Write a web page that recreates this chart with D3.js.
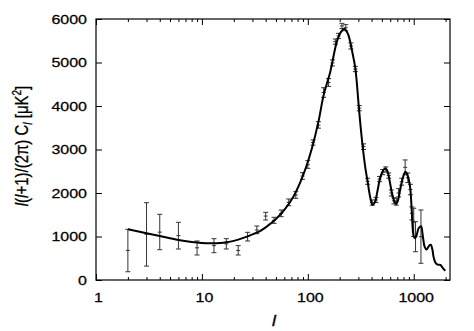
<!DOCTYPE html>
<html><head><meta charset="utf-8">
<script src="https://cdn.jsdelivr.net/npm/d3@7"></script>
<style>body{margin:0;background:#fff}svg{display:block}</style>
</head><body><svg id="c" width="474" height="331"></svg>
<script>
// theory curve (multipole l, power)
const theoryL = [2,3,4,5,6,8,10,12,15,17,20,25,30,35,40,50,60,73,85,98,110,126,141,163,188,205,222,240,251,265,281,302,314,332,350,367,390,409,430,455,480,510,539,565,590,620,650,681,710,745,790,833,860,900,930,960,1000,1030,1070,1112,1172,1220,1268,1320,1400,1450,1500,1542,1600,1660,1720,1784,1850,1920,1990];
const theoryV = [1165,1075,1010,960,920,875,852,843,850,866,900,975,1050,1120,1210,1400,1610,1916,2250,2650,3050,3640,4250,4790,5480,5700,5770,5650,5480,5200,4866,4023,3563,3000,2560,2260,1880,1725,1790,2050,2330,2500,2567,2500,2300,2020,1830,1747,1830,2080,2350,2490,2450,2300,2080,1550,1000,960,1050,1188,1235,1000,760,700,790,810,700,520,400,360,350,345,300,250,215];
// binned measurements
const dataL  = [2,3,4,6,9,13,17,22,27,33,40,48,56,66,77,89,100,112,126,141,157,171,182,195,210,228,255,281,306,336,367,405,440,476,510,545,580,615,650,685,720,770,830,880,930,960,1000,1040,1170];
const dataV  = [680,1050,1100,1020,740,790,830,680,1000,1150,1470,1370,1530,1785,1955,2390,2650,3160,3560,4310,4540,4990,5480,5610,5840,5800,5380,4850,3950,3065,2270,1780,1840,2320,2480,2540,2400,2000,1820,1800,2000,2260,2590,2350,2080,1530,1330,995,995];
const dataLo = [190,320,697,713,575,628,713,575,897,1065,1379,1303,1456,1709,1878,2315,2567,3100,3490,4200,4450,4920,5420,5550,5780,5730,5310,4790,3890,3000,2200,1720,1780,2260,2420,2480,2340,1930,1750,1720,1910,2180,2420,2240,1960,1380,1000,650,384];
const dataHi = [1165,1777,1510,1326,897,950,950,790,1096,1241,1556,1441,1609,1862,2030,2467,2743,3220,3640,4420,4630,5060,5540,5670,5900,5870,5450,4910,4010,3130,2340,1840,1900,2380,2540,2600,2460,2070,1890,1880,2100,2340,2760,2460,2200,1680,1650,1340,1609];
const xTicks = [1,10,100,1000];
const xMinor = [2,3,4,5,6,7,8,9,20,30,40,50,60,70,80,90,200,300,400,500,600,700,800,900,2000];
const yTicks = [0,1000,2000,3000,4000,5000,6000];

const svg = d3.select("#c");
const L = 96, R = 450, T = 19, B = 280;
const x = d3.scaleLog().domain([1, 2200]).range([L, R]);
const y = d3.scaleLinear().domain([0, 6000]).range([B, T]);
const SX = 1.25;
const FONT = "Liberation Sans, Arial, Helvetica, sans-serif";

function styleAxis(g){ g.select(".domain").remove(); g.selectAll("line").attr("stroke","#000").attr("stroke-width",1); }

// bottom major with labels
const gb = svg.append("g").attr("transform",`translate(0,${B})`)
  .call(d3.axisBottom(x).tickValues(xTicks).tickFormat(d3.format("d")).tickSize(-6).tickPadding(13));
styleAxis(gb);
gb.selectAll("text").attr("font-family",FONT).attr("font-size",12.8).attr("fill","#000")
  .attr("stroke","#000").attr("stroke-width",0.25)
  .attr("transform",`translate(2,0) scale(${SX},1)`);
svg.append("g").attr("transform",`translate(0,${B})`)
  .call(d3.axisBottom(x).tickValues(xMinor).tickFormat("").tickSize(-3)).call(styleAxis);
// top mirror
svg.append("g").attr("transform",`translate(0,${T})`)
  .call(d3.axisTop(x).tickValues(xTicks).tickFormat("").tickSize(-6)).call(styleAxis);
svg.append("g").attr("transform",`translate(0,${T})`)
  .call(d3.axisTop(x).tickValues(xMinor).tickFormat("").tickSize(-3)).call(styleAxis);
// left
const gl = svg.append("g").attr("transform",`translate(${L},0)`)
  .call(d3.axisLeft(y).tickValues(yTicks).tickFormat(d3.format("d")).tickSize(-6).tickPadding(7.2));
styleAxis(gl);
gl.selectAll("text").attr("font-family",FONT).attr("font-size",12.8).attr("fill","#000")
  .attr("stroke","#000").attr("stroke-width",0.25)
  .attr("transform",`scale(${SX},1)`);
// right
svg.append("g").attr("transform",`translate(${R},0)`)
  .call(d3.axisRight(y).tickValues(yTicks).tickFormat("").tickSize(-6)).call(styleAxis);

// frame
svg.append("rect").attr("x",L).attr("y",T).attr("width",R-L).attr("height",B-T)
  .attr("fill","none").attr("stroke","#000").attr("stroke-width",1.2);

// error bars
const data = dataL.map((l,i)=>({l, v:dataV[i], lo:dataLo[i], hi:dataHi[i]}));
const eb = svg.append("g").attr("stroke","#333").attr("stroke-width",1);
const cw = 2.5;
data.forEach(d=>{
  const px = x(d.l);
  eb.append("line").attr("x1",px).attr("x2",px).attr("y1",y(d.lo)).attr("y2",y(d.hi));
  eb.append("line").attr("x1",px-cw).attr("x2",px+cw).attr("y1",y(d.lo)).attr("y2",y(d.lo));
  eb.append("line").attr("x1",px-cw).attr("x2",px+cw).attr("y1",y(d.hi)).attr("y2",y(d.hi));
  eb.append("line").attr("x1",px-2).attr("x2",px+2).attr("y1",y(d.v)).attr("y2",y(d.v));
});

// theory curve
const th = theoryL.map((l,i)=>[l, theoryV[i]]);
svg.append("path").datum(th)
  .attr("d", d3.line().x(d=>x(d[0])).y(d=>y(d[1])).curve(d3.curveCatmullRom.alpha(0.5)))
  .attr("fill","none").attr("stroke","#000").attr("stroke-width",2).attr("stroke-linejoin","round");

// x title
svg.append("text").attr("transform",`translate(274,326) scale(${SX},1)`)
  .attr("text-anchor","middle").attr("font-family",FONT).attr("font-size",14)
  .attr("font-style","italic").attr("stroke","#000").attr("stroke-width",0.3).text("l");

// y title
const yt = svg.append("text").attr("transform",`translate(28,146) scale(${SX},1) rotate(-90)`)
  .attr("text-anchor","middle").attr("font-family",FONT).attr("font-size",15).attr("fill","#000")
  .attr("stroke","#000").attr("stroke-width",0.25);
yt.append("tspan").attr("font-style","italic").text("l");
yt.append("tspan").text("(");
yt.append("tspan").attr("font-style","italic").text("l");
yt.append("tspan").text("+1)/(2π) C");
yt.append("tspan").attr("font-style","italic").attr("font-size",10).attr("dy",3).text("l");
yt.append("tspan").attr("dy",-3).text(" [μK");
yt.append("tspan").attr("font-size",10).attr("dy",-6).text("2");
yt.append("tspan").attr("dy",6).text("]");
</script></body></html>
